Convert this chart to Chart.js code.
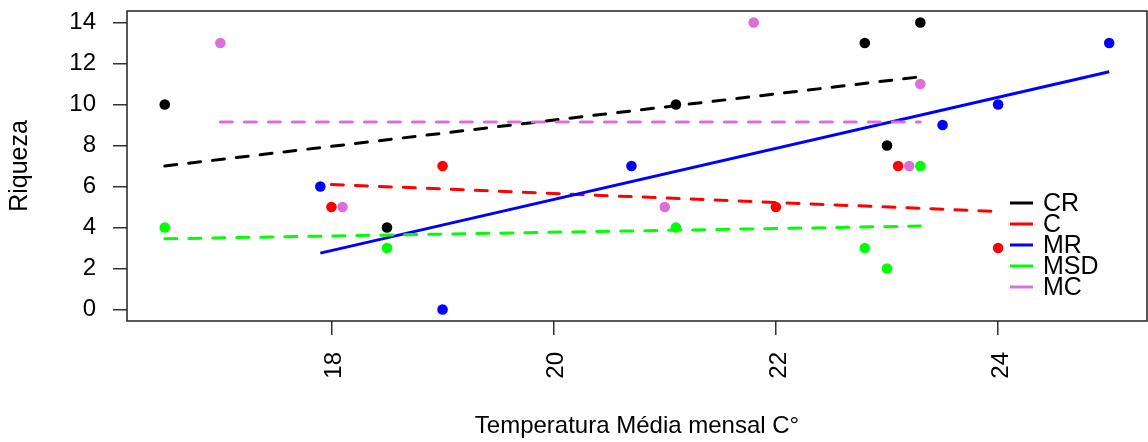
<!DOCTYPE html>
<html>
<head>
<meta charset="utf-8">
<script src="https://cdn.jsdelivr.net/npm/chart.js@4.4.1/dist/chart.umd.min.js"></script>
<style>
 html, body { margin: 0; padding: 0; background: #fff; }
 #wrap { width: 1148px; height: 442px; }
</style>
</head>
<body>
<div id="wrap"><canvas id="riquezaChart"></canvas></div>
<script>
var seriesNames = ["CR", "C", "MR", "MSD", "MC"];
var seriesColors = ["#000000", "#FF0000", "#0000FF", "#00FF00", "#DA70D6"];

var xTicks = [18, 20, 22, 24];
var yTicks = [0, 2, 4, 6, 8, 10, 12, 14];

// points
var crTemp = [16.5, 18.5, 21.1, 22.8, 23.0, 23.3];
var crRiq = [10, 4, 10, 13, 8, 14];
var cTemp = [18.0, 19.0, 22.0, 23.1, 24.0];
var cRiq = [5, 7, 5, 7, 3];
var mrTemp = [17.9, 19.0, 20.7, 23.5, 24.0, 25.0];
var mrRiq = [6, 0, 7, 9, 10, 13];
var msdTemp = [16.5, 18.5, 21.1, 22.8, 23.0, 23.3];
var msdRiq = [4, 3, 4, 3, 2, 7];
var mcTemp = [17.0, 18.1, 21.0, 21.8, 23.2, 23.3];
var mcRiq = [13, 5, 5, 14, 7, 11];

// trend lines, ends
var crFitTemp = [16.5, 23.3];
var crFitRiq = [7.0, 11.35];
var cFitTemp = [18.0, 24.0];
var cFitRiq = [6.1, 4.78];
var mrFitTemp = [17.9, 25.0];
var mrFitRiq = [2.75, 11.6];
var msdFitTemp = [16.5, 23.3];
var msdFitRiq = [3.45, 4.07];
var mcFitTemp = [17.0, 23.3];
var mcFitRiq = [9.15, 9.15];

var pointTemps = [crTemp, cTemp, mrTemp, msdTemp, mcTemp];
var pointRiqs = [crRiq, cRiq, mrRiq, msdRiq, mcRiq];
var fitTemps = [crFitTemp, cFitTemp, mrFitTemp, msdFitTemp, mcFitTemp];
var fitRiqs = [crFitRiq, cFitRiq, mrFitRiq, msdFitRiq, mcFitRiq];
var fitSolid = [false, false, true, false, false];

var fontFamily = '"Liberation Sans", Arial, sans-serif';

function toXY(xs, ys) {
 return xs.map(function (x, i) {
  return { x: x, y: ys[i] };
 });
}

var datasets = [];

// points first so they sit on top (chart.js draws dataset 0 last)
for (var i = seriesNames.length - 1; i >= 0; i--) {
 datasets.push({
  label: seriesNames[i],
  data: toXY(pointTemps[i], pointRiqs[i]),
  showLine: false,
  pointRadius: 5.3,
  pointBorderWidth: 0,
  pointBackgroundColor: seriesColors[i],
  pointBorderColor: seriesColors[i],
 });
}
for (var j = seriesNames.length - 1; j >= 0; j--) {
 datasets.push({
  label: seriesNames[j] + " fit",
  data: toXY(fitTemps[j], fitRiqs[j]),
  showLine: true,
  pointRadius: 0,
  borderColor: seriesColors[j],
  borderWidth: 3,
  borderDash: fitSolid[j] ? [] : [12, 12],
  borderCapStyle: fitSolid[j] ? "butt" : "round",
  fill: false,
 });
}

var boxPlugin = {
 id: "plotBox",
 afterDatasetsDraw: function (chart) {
  var a = chart.chartArea;
  var ctx = chart.ctx;
  ctx.save();
  ctx.strokeStyle = "#222";
  ctx.lineWidth = 1.5;
  ctx.strokeRect(a.left, a.top, a.right - a.left, a.bottom - a.top);
  ctx.restore();
 },
};

var legendPlugin = {
 id: "rLegend",
 afterDraw: function (chart) {
  var a = chart.chartArea;
  var ctx = chart.ctx;
  ctx.save();
  ctx.font = "25px " + fontFamily;
  ctx.textBaseline = "middle";
  ctx.textAlign = "left";
  for (var k = 0; k < seriesNames.length; k++) {
   var y = a.bottom - 118 + k * 21;
   ctx.strokeStyle = seriesColors[k];
   ctx.lineWidth = 3;
   ctx.beginPath();
   ctx.moveTo(a.right - 137, y);
   ctx.lineTo(a.right - 114, y);
   ctx.stroke();
   ctx.fillStyle = "#000";
   ctx.fillText(seriesNames[k], a.right - 104, y + 1);
  }
  ctx.restore();
 },
};

var ctx = document.getElementById("riquezaChart");

new Chart(ctx, {
 type: "scatter",
 data: { datasets: datasets },
 options: {
  responsive: true,
  maintainAspectRatio: false,
  animation: false,
  layout: { autoPadding: false, padding: { top: 11, right: 1, left: 0, bottom: 0 } },
  plugins: {
   legend: { display: false },
   tooltip: { enabled: false },
  },
  scales: {
   x: {
    type: "linear",
    min: 16.16,
    max: 25.34,
    afterBuildTicks: function (scale) {
     scale.ticks = xTicks.map(function (v) {
      return { value: v };
     });
    },
    afterFit: function (scale) {
     scale.height = 121;
     scale.paddingLeft = 0;
     scale.paddingRight = 0;
    },
    border: { display: false },
    grid: {
     drawOnChartArea: false,
     drawTicks: true,
     tickLength: 14,
     tickColor: "#333",
     lineWidth: 1.5,
    },
    ticks: {
     minRotation: 90,
     maxRotation: 90,
     padding: 17,
     labelOffset: 3,
     color: "#000",
     font: { family: fontFamily, size: 24 },
    },
    title: {
     display: true,
     text: "Temperatura Média mensal C°",
     color: "#000",
     font: { family: fontFamily, size: 24 },
     padding: { top: 0, bottom: 1 },
    },
   },
   y: {
    type: "linear",
    min: -0.56,
    max: 14.56,
    afterBuildTicks: function (scale) {
     scale.ticks = yTicks.map(function (v) {
      return { value: v };
     });
    },
    afterFit: function (scale) {
     scale.width = 127;
     scale.paddingTop = 0;
     scale.paddingBottom = 0;
    },
    border: { display: false },
    grid: {
     drawOnChartArea: false,
     drawTicks: true,
     tickLength: 14,
     tickColor: "#333",
     lineWidth: 1.5,
    },
    ticks: {
     padding: 17,
     color: "#000",
     font: { family: fontFamily, size: 24 },
    },
    title: {
     display: true,
     text: "Riqueza",
     color: "#000",
     font: { family: fontFamily, size: 25 },
     padding: { top: 5, bottom: 0 },
    },
   },
  },
 },
 plugins: [boxPlugin, legendPlugin],
});
</script>
</body>
</html>
